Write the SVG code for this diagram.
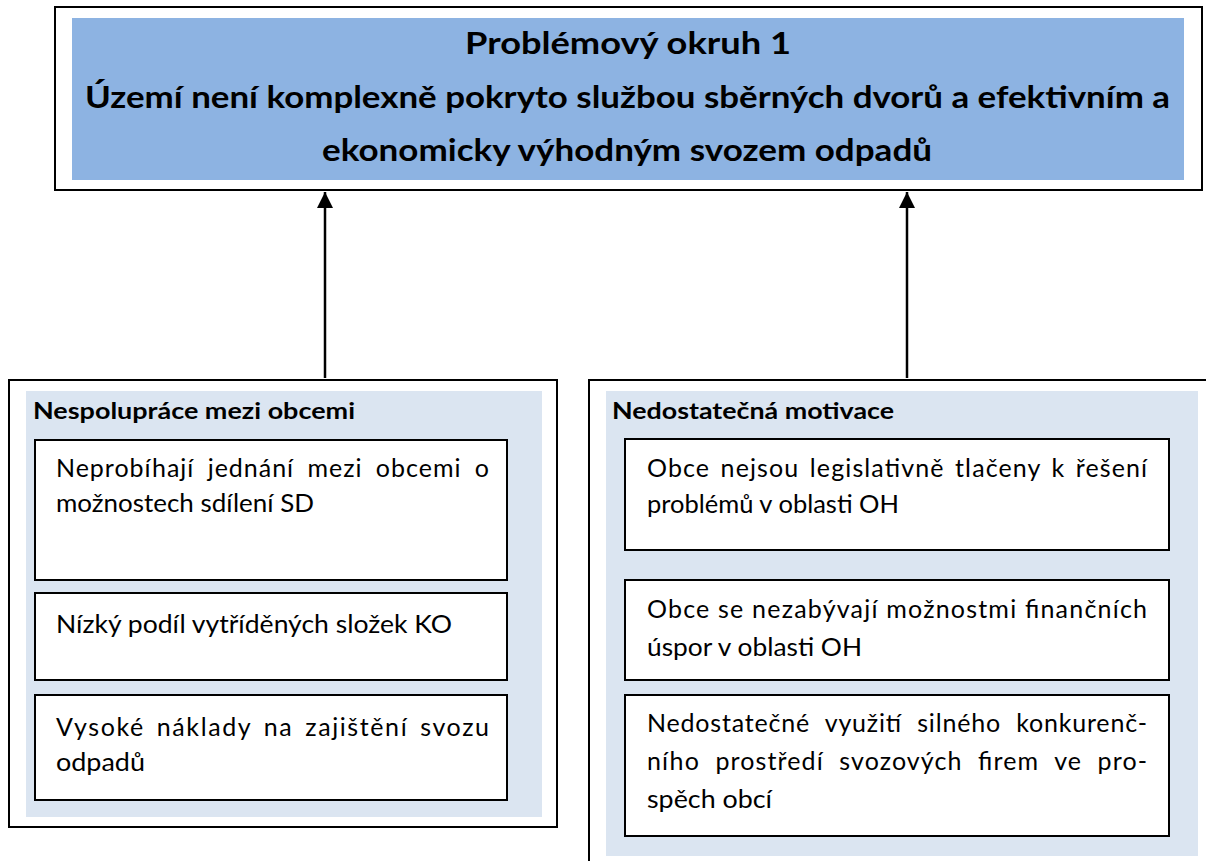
<svg xmlns="http://www.w3.org/2000/svg" width="1206" height="861" viewBox="0 0 1206 861">
<style>
.frame{fill:#ffffff;stroke:#000000;stroke-width:2}
.panel{fill:#dbe5f1;stroke:none}
.head{fill:#8db3e2;stroke:none}
.box{fill:#ffffff;stroke:#000000;stroke-width:2}
.t{font-family:Lato,"Liberation Sans",sans-serif;fill:#000000}
.h{font-size:31px;font-weight:bold}
.ti{font-size:23px;font-weight:bold}
.b{font-size:25px}
.conn{stroke:#000000;stroke-width:2.5;fill:none}
</style>
<defs>
<marker id="ah" viewBox="0 0 10 10" refX="10" refY="5" markerWidth="6.5" markerHeight="6.5" markerUnits="strokeWidth" orient="auto">
<path d="M0,0 L10,5 L0,10 z" fill="#000000"/>
</marker>
</defs>
<rect width="1206" height="861" fill="#ffffff"/>
<g id="problem">
<rect class="frame" x="55" y="7" width="1147" height="183"/>
<rect class="head" x="72" y="18" width="1112" height="162"/>
<text class="t h" x="628" y="54" text-anchor="middle" textLength="326" lengthAdjust="spacingAndGlyphs">Problémový okruh 1</text>
<text class="t h" x="85" y="108" textLength="1085" lengthAdjust="spacingAndGlyphs">Území není komplexně pokryto službou sběrných dvorů a efektivním a</text>
<text class="t h" x="322" y="161" textLength="610" lengthAdjust="spacingAndGlyphs">ekonomicky výhodným svozem odpadů</text>
</g>
<g id="connectors">
<line class="conn" x1="325" y1="378" x2="325" y2="192" marker-end="url(#ah)"/>
<line class="conn" x1="907" y1="378" x2="907" y2="192" marker-end="url(#ah)"/>
</g>
<g id="cause-left">
<rect class="frame" x="9" y="380" width="548" height="447"/>
<rect class="panel" x="26" y="391" width="516" height="426"/>
<text class="t ti" x="33" y="419" textLength="322" lengthAdjust="spacingAndGlyphs">Nespolupráce mezi obcemi</text>
</g>
<g id="left-1">
<rect class="box" x="35" y="440" width="472" height="140"/>
<text class="t b" x="56" y="477" word-spacing="6" textLength="433" lengthAdjust="spacing">Neprobíhají jednání mezi obcemi o</text>
<text class="t b" x="56" y="512" textLength="258" lengthAdjust="spacingAndGlyphs">možnostech sdílení SD</text>
</g>
<g id="left-2">
<rect class="box" x="35" y="593" width="472" height="87"/>
<text class="t b" x="56" y="633" textLength="396" lengthAdjust="spacingAndGlyphs">Nízký podíl vytříděných složek KO</text>
</g>
<g id="left-3">
<rect class="box" x="35" y="695" width="472" height="105"/>
<text class="t b" x="56" y="736" word-spacing="4" textLength="433" lengthAdjust="spacing">Vysoké náklady na zajištění svozu</text>
<text class="t b" x="56" y="771" textLength="89" lengthAdjust="spacingAndGlyphs">odpadů</text>
</g>
<g id="cause-right">
<rect class="frame" x="589" y="380" width="630" height="500"/>
<rect class="panel" x="606" y="391" width="592" height="465"/>
<text class="t ti" x="612" y="419" textLength="282" lengthAdjust="spacingAndGlyphs">Nedostatečná motivace</text>
</g>
<g id="right-1">
<rect class="box" x="625" y="439" width="544" height="111"/>
<text class="t b" x="647" y="477" word-spacing="3" textLength="500" lengthAdjust="spacing">Obce nejsou legislativně tlačeny k řešení</text>
<text class="t b" x="647" y="513" textLength="252" lengthAdjust="spacingAndGlyphs">problémů v oblasti OH</text>
</g>
<g id="right-2">
<rect class="box" x="625" y="580" width="544" height="100"/>
<text class="t b" x="647" y="618" textLength="500" lengthAdjust="spacing">Obce se nezabývají možnostmi finančních</text>
<text class="t b" x="647" y="656" textLength="215" lengthAdjust="spacingAndGlyphs">úspor v oblasti OH</text>
</g>
<g id="right-3">
<rect class="box" x="625" y="695" width="544" height="141"/>
<text class="t b" x="647" y="732" word-spacing="8" textLength="500" lengthAdjust="spacing">Nedostatečné využití silného konkurenč-</text>
<text class="t b" x="647" y="770" word-spacing="8" textLength="500" lengthAdjust="spacing">ního prostředí svozových firem ve pro-</text>
<text class="t b" x="647" y="808" textLength="125" lengthAdjust="spacingAndGlyphs">spěch obcí</text>
</g>
</svg>
